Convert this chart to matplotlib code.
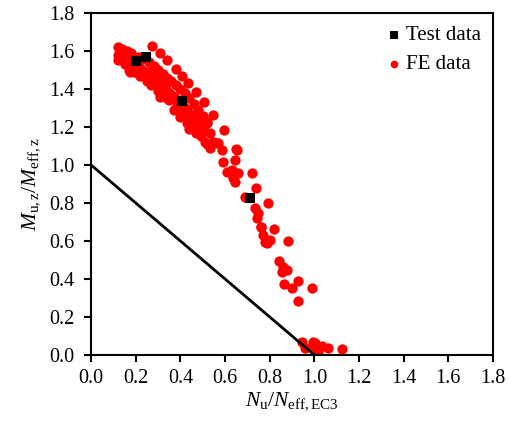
import matplotlib.pyplot as plt

plt.rcParams["font.family"] = "Liberation Serif"
plt.rcParams["mathtext.fontset"] = "custom"
plt.rcParams["mathtext.rm"] = "Liberation Serif"
plt.rcParams["mathtext.it"] = "Liberation Serif:italic"

# test results
test_x = [0.20, 0.248, 0.409, 0.712]
test_y = [1.547, 1.567, 1.338, 0.825]

# FE results
fe_x = [
    # dense band, upper edge
    0.12, 0.14, 0.16, 0.18, 0.21, 0.23, 0.26, 0.28, 0.30, 0.32,
    0.34, 0.36, 0.38, 0.40, 0.42, 0.44, 0.46, 0.48, 0.50, 0.52,
    # dense band, middle
    0.12, 0.14, 0.16, 0.18, 0.20, 0.22, 0.24, 0.26, 0.28, 0.30,
    0.32, 0.34, 0.36, 0.38, 0.40, 0.42, 0.44, 0.46, 0.48, 0.50,
    # dense band, between
    0.13, 0.15, 0.17, 0.19, 0.21, 0.23, 0.25, 0.27, 0.29, 0.31,
    0.33, 0.35, 0.37, 0.39, 0.41, 0.43, 0.45, 0.47, 0.49,
    # dense band, lower edge
    0.12, 0.15, 0.17, 0.19, 0.22, 0.25, 0.27, 0.30, 0.33, 0.35,
    0.38, 0.41, 0.43, 0.45, 0.47, 0.49, 0.52, 0.175, 0.31, 0.37,
    0.40, 0.44,
    # outer row
    0.272, 0.309, 0.342, 0.381, 0.406, 0.433, 0.469, 0.505, 0.545, 0.597,
    0.649,
    # middle section
    0.473, 0.488, 0.518, 0.503, 0.533, 0.51, 0.548, 0.57, 0.585, 0.652,
    0.533, 0.562, 0.59, 0.646, 0.63, 0.608, 0.66, 0.637, 0.645, 0.72,
    0.737, 0.69, 0.794, 0.734, 0.749, 0.742, 0.761, 0.82, 0.772, 0.802,
    0.787, 0.779, 0.881, 0.763,
    # lower section
    0.842, 0.861, 0.876, 0.854, 0.928, 0.866, 0.899, 0.991, 0.928,
    # near the axis
    0.944, 0.958, 0.996, 0.988, 1.011, 1.033, 1.06, 1.125, 1.018, 1.003,
]
fe_y = [
    1.62, 1.61, 1.60, 1.59, 1.57, 1.56, 1.54, 1.52, 1.50, 1.48,
    1.46, 1.44, 1.42, 1.40, 1.38, 1.35, 1.32, 1.29, 1.26, 1.22,
    1.58, 1.57, 1.56, 1.55, 1.53, 1.51, 1.49, 1.47, 1.45, 1.43,
    1.41, 1.39, 1.37, 1.34, 1.32, 1.30, 1.27, 1.24, 1.21, 1.18,
    1.60, 1.58, 1.56, 1.54, 1.52, 1.50, 1.49, 1.47, 1.45, 1.43,
    1.41, 1.38, 1.36, 1.34, 1.31, 1.29, 1.26, 1.23, 1.20,
    1.55, 1.53, 1.50, 1.49, 1.47, 1.44, 1.42, 1.39, 1.36, 1.34,
    1.30, 1.27, 1.22, 1.20, 1.17, 1.15, 1.11, 1.49, 1.36, 1.29,
    1.25, 1.19,
    1.628, 1.587, 1.553, 1.504, 1.468, 1.433, 1.386, 1.332, 1.261, 1.186,
    1.084,
    1.28, 1.237, 1.228, 1.20, 1.167, 1.123, 1.123, 1.114, 1.079, 1.079,
    1.088, 1.114, 1.017, 1.025, 0.974, 0.965, 0.956, 0.93, 0.912, 0.956,
    0.881, 0.833, 0.798, 0.772, 0.745, 0.72, 0.672, 0.663, 0.632, 0.605,
    0.588, 0.597, 0.598, 0.674,
    0.496, 0.465, 0.447, 0.438, 0.391, 0.374, 0.351, 0.351, 0.286,
    0.067, 0.035, 0.067, 0.044, 0.026, 0.049, 0.035, 0.03, 0.017, 0.061,
]

# design line
line_x = [0.0, 1.0]
line_y = [1.0, 0.0]

fig = plt.figure(figsize=(5.09, 4.30), dpi=100)
ax = fig.add_axes([0.179, 0.1744, 0.7896, 0.7954])

ax.scatter(fe_x, fe_y, s=55, color="red", marker="o", linewidths=0,
           label="FE data", zorder=2)
ax.scatter(test_x, test_y, s=55, color="black", marker="s", linewidths=0,
           label="Test data", zorder=4)
ax.plot(line_x, line_y, color="black", lw=2, zorder=3)

ax.set_xlim(0, 1.8)
ax.set_ylim(0, 1.8)
ax.set_xticks([i * 0.2 for i in range(10)])
ax.set_yticks([i * 0.2 for i in range(10)])
ax.xaxis.set_major_formatter(plt.FormatStrFormatter("%.1f"))
ax.yaxis.set_major_formatter(plt.FormatStrFormatter("%.1f"))
ax.tick_params(direction="out", length=5, width=1.5, labelsize=14.5)
ax.tick_params(axis="y", pad=7)
ax.tick_params(axis="x", pad=5)
for sp in ax.spines.values():
    sp.set_linewidth(1.5)

ax.set_xlabel(r"$N_{\mathrm{u}}/N_{\mathrm{eff,EC3}}$", fontsize=15.5, labelpad=2)
ax.set_ylabel(r"$M_{\mathrm{u,z}}/M_{\mathrm{eff,z}}$", fontsize=15.5, labelpad=5)

handles, labels = ax.get_legend_handles_labels()
ax.legend(handles[::-1], labels[::-1], loc="upper right", frameon=False,
          fontsize=15, handletextpad=0.15, handlelength=0.8, markerscale=0.75,
          borderaxespad=0.2, labelspacing=0.45)

fig.savefig("out.png", dpi=100)
